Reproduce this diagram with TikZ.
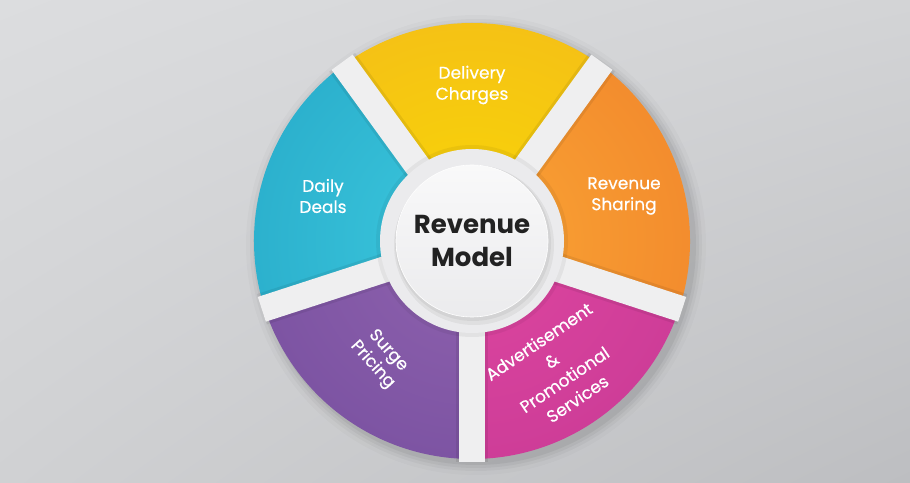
\documentclass[tikz,border=0pt]{standalone}
\usepackage{fontspec}
\setmainfont{Poppins}
\newfontfamily\lblfont{Poppins}[FakeBold=0.5]
\usetikzlibrary{positioning,shadings}

\definecolor{bgul}{HTML}{DCDDDF}
\definecolor{bgur}{HTML}{D3D4D6}
\definecolor{bgll}{HTML}{D0D1D3}
\definecolor{bglr}{HTML}{BDBEC1}
\definecolor{spoke}{HTML}{EFEFF0}
\definecolor{ring}{HTML}{EBEBED}
\definecolor{yelin}{RGB}{248,214,6}
\definecolor{yelout}{HTML}{F2AE24}
\definecolor{cyanin}{RGB}{60,200,222}
\definecolor{cyanout}{HTML}{1C9ABD}
\definecolor{orgin}{RGB}{250,165,52}
\definecolor{orgout}{HTML}{EC7427}
\definecolor{magin}{RGB}{222,70,160}
\definecolor{magout}{HTML}{BE3490}
\definecolor{purin}{RGB}{143,98,174}
\definecolor{purout}{HTML}{6B4698}
\definecolor{hubtext}{HTML}{222222}

\begin{document}
\begin{tikzpicture}[x=1pt, y=1pt,
    lbl/.style={text=white, align=center, font=\lblfont\fontsize{17}{21}\selectfont},
    hub/.style={circle, minimum size=152pt, draw=white, line width=0.6pt,
      top color=white!70!ring, bottom color=ring,
      text=hubtext, align=center, font=\bfseries\fontsize{26}{33}\selectfont}]
  \useasboundingbox (0,0) rectangle (910,482);
  \shade[upper left=bgul, upper right=bgur, lower left=bgll, lower right=bglr]
    (0,0) rectangle (910,482);
  \coordinate (c) at (472,241);

  % soft shadow of the wheel
  \foreach \r/\o in {230/0.02, 226/0.03, 223/0.04, 220/0.05}
    \fill[black, opacity=\o] ([shift={(4,-4)}]c) circle (\r);

  % coloured sectors
  \foreach \a/\ci/\co in {54/yelin/yelout, 126/cyanin/cyanout, 198/purin/purout,
                          270/magin/magout, 342/orgin/orgout}{
    \begin{scope}
      \clip (c) -- ++(\a:218) arc[start angle=\a, end angle=\a+72, radius=218] -- cycle;
      \shade[inner color=\ci, outer color=\co] (c) circle (436);
    \end{scope}
  }

  % spokes
  \foreach \a in {54,126,198,270,342}{
    \fill[black, opacity=0.07] (c) ++({\a-90}:16) -- ++(\a:221) -- ++({\a+90}:32)
      -- ++({\a+180}:221) -- cycle;
    \fill[spoke] (c) ++({\a-90}:13) -- ++(\a:221) -- ++({\a+90}:26)
      -- ++({\a+180}:221) -- cycle;
  }

  % hub
  \fill[black, opacity=0.05] (c) circle (96);
  \fill[ring] (c) circle (92);
  \fill[black, opacity=0.05] ([shift={(2,-4)}]c) circle (80);
  \fill[black, opacity=0.05] ([shift={(1,-2)}]c) circle (78);
  \node[hub] (model) at (c) {Revenue\\Model};

  % labels
  \node[lbl] (delivery) at (472,397) {Delivery\\Charges};
  \node[lbl] (daily) at (323,286) {Daily\\Deals};
  \node[lbl] (sharing) at (624,286) {Revenue\\Sharing};
  \node[lbl, rotate=-48] (surge) at (380,124) {Surge\\Pricing};
  \node[lbl, rotate=34, font=\lblfont\fontsize{17}{23}\selectfont] (advert) at (558,112)
    {Advertisement\\\&\\Promotional\\Services};
\end{tikzpicture}
\end{document}
